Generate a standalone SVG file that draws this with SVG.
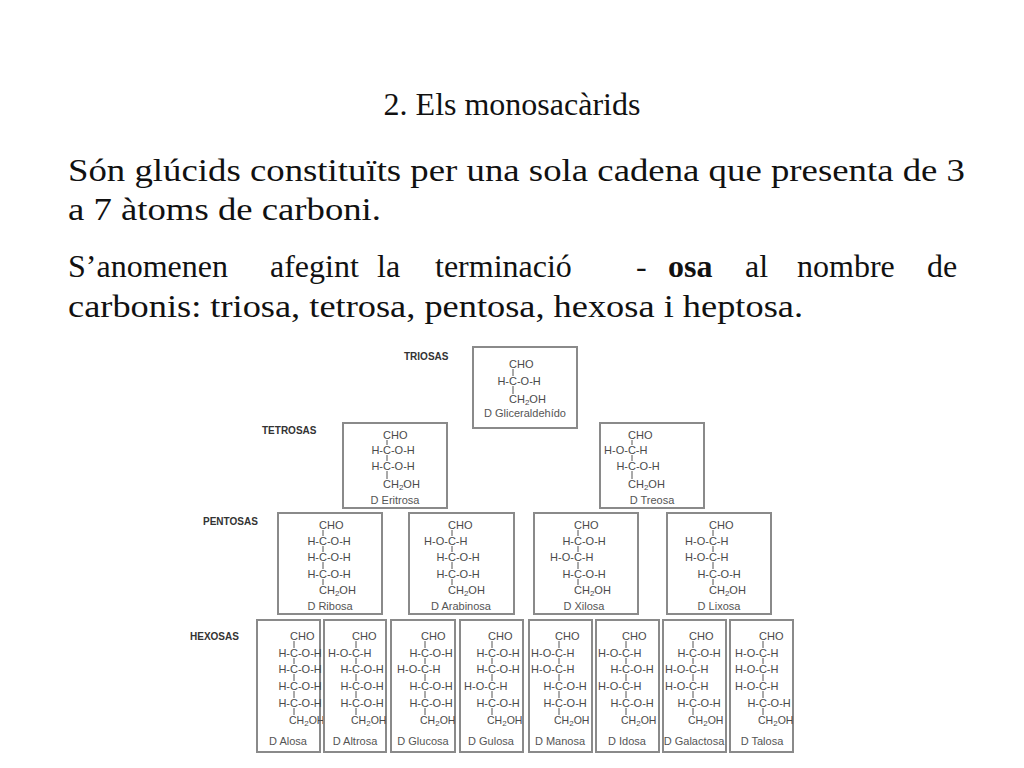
<svg xmlns="http://www.w3.org/2000/svg" width="1024" height="768" viewBox="0 0 1024 768">
<style>
.t{font-family:"Liberation Serif",serif;fill:#111;font-size:32px}
.f{font-family:"Liberation Sans",Arial,sans-serif;font-size:11px;fill:#4a4a4a}
.n{font-family:"Liberation Sans",Arial,sans-serif;font-size:11px;fill:#555;text-anchor:middle}
.l{font-family:"Liberation Sans",Arial,sans-serif;font-size:10px;font-weight:bold;fill:#333}
.b{fill:#fff;stroke:#8a8a8a;stroke-width:2}
.k{stroke:#555;stroke-width:1;fill:none}
.s{font-size:8px}
.h{font-size:10.5px}
</style>
<rect width="1024" height="768" fill="#fff"/>
<text class="t" x="512" y="115" font-size="55" text-anchor="middle">2. Els monosacàrids</text>
<text class="t" x="68" y="181" textLength="897" lengthAdjust="spacingAndGlyphs">Són glúcids constituïts per una sola cadena que presenta de 3</text>
<text class="t" x="68" y="220" textLength="313" lengthAdjust="spacingAndGlyphs">a 7 àtoms de carboni.</text>
<text class="t" y="277"><tspan x="68">S’anomenen</tspan><tspan x="270">afegint</tspan><tspan x="377">la</tspan><tspan x="435">terminació</tspan><tspan x="636">-</tspan><tspan x="668" font-weight="bold">osa</tspan><tspan x="745">al</tspan><tspan x="797">nombre</tspan><tspan x="927">de</tspan></text>
<text class="t" x="68" y="317" textLength="735" lengthAdjust="spacingAndGlyphs">carbonis:  triosa, tetrosa, pentosa, hexosa i heptosa.</text>

<text class="l" x="404" y="360">TRIOSAS</text>
<text class="l" x="262" y="434">TETROSAS</text>
<text class="l" x="203" y="525">PENTOSAS</text>
<text class="l" x="190" y="640">HEXOSAS</text>

<g id="gliceraldehid">
<rect class="b" x="473" y="347" width="104" height="81"/>
<text class="f" x="509" y="368">CHO</text><text class="f" x="497.4" y="385">H-C-O-H</text>
<text class="f" x="509" y="403">CH<tspan class="s" dy="2">2</tspan><tspan dy="-2">OH</tspan></text>
<path class="k" d="M513 369V376M513 386V394"/>
<text class="n" x="525" y="417">D Gliceraldehído</text>
</g>

<g id="eritrosa">
<rect class="b" x="343" y="423" width="104" height="85"/>
<text class="f" x="383" y="439">CHO</text><text class="f" x="371.4" y="454">H-C-O-H</text><text class="f" x="371.4" y="470">H-C-O-H</text>
<text class="f" x="383" y="488">CH<tspan class="s" dy="2">2</tspan><tspan dy="-2">OH</tspan></text>
<path class="k" d="M387 440V445M387 455V461M387 471V479"/>
<text class="n" x="395" y="504">D Eritrosa</text>
</g>
<g id="treosa">
<rect class="b" x="600" y="423" width="104" height="85"/>
<text class="f" x="628" y="439">CHO</text><text class="f" x="604.1" y="454">H-O-C-H</text><text class="f" x="616.4" y="470">H-C-O-H</text>
<text class="f" x="628" y="488">CH<tspan class="s" dy="2">2</tspan><tspan dy="-2">OH</tspan></text>
<path class="k" d="M632 440V445M632 455V461M632 471V479"/>
<text class="n" x="652" y="504">D Treosa</text>
</g>

<g id="ribosa">
<rect class="b" x="278" y="513" width="104" height="101"/>
<text class="f" x="319" y="529">CHO</text><text class="f" x="307.4" y="545">H-C-O-H</text><text class="f" x="307.4" y="561">H-C-O-H</text><text class="f" x="307.4" y="578">H-C-O-H</text>
<text class="f" x="319" y="594">CH<tspan class="s" dy="2">2</tspan><tspan dy="-2">OH</tspan></text>
<path class="k" d="M323 530V536M323 546V552M323 562V569M323 579V585"/>
<text class="n" x="330" y="610">D Ribosa</text>
</g>
<g id="arabinosa">
<rect class="b" x="409" y="513" width="105" height="101"/>
<text class="f" x="448" y="529">CHO</text><text class="f" x="424.1" y="545">H-O-C-H</text><text class="f" x="436.4" y="561">H-C-O-H</text><text class="f" x="436.4" y="578">H-C-O-H</text>
<text class="f" x="448" y="594">CH<tspan class="s" dy="2">2</tspan><tspan dy="-2">OH</tspan></text>
<path class="k" d="M452 530V536M452 546V552M452 562V569M452 579V585"/>
<text class="n" x="461" y="610">D Arabinosa</text>
</g>
<g id="xilosa">
<rect class="b" x="534" y="513" width="104" height="101"/>
<text class="f" x="574" y="529">CHO</text><text class="f" x="562.4" y="545">H-C-O-H</text><text class="f" x="550.1" y="561">H-O-C-H</text><text class="f" x="562.4" y="578">H-C-O-H</text>
<text class="f" x="574" y="594">CH<tspan class="s" dy="2">2</tspan><tspan dy="-2">OH</tspan></text>
<path class="k" d="M578 530V536M578 546V552M578 562V569M578 579V585"/>
<text class="n" x="584" y="610">D Xilosa</text>
</g>
<g id="lixosa">
<rect class="b" x="667" y="513" width="104" height="101"/>
<text class="f" x="709" y="529">CHO</text><text class="f" x="685.1" y="545">H-O-C-H</text><text class="f" x="685.1" y="561">H-O-C-H</text><text class="f" x="697.4" y="578">H-C-O-H</text>
<text class="f" x="709" y="594">CH<tspan class="s" dy="2">2</tspan><tspan dy="-2">OH</tspan></text>
<path class="k" d="M713 530V536M713 546V552M713 562V569M713 579V585"/>
<text class="n" x="719" y="610">D Lixosa</text>
</g>

<g id="alosa">
<rect class="b" x="257" y="620" width="63" height="132"/>
<text class="f" x="290" y="640">CHO</text><text class="f" x="278.4" y="657">H-C-O-H</text><text class="f" x="278.4" y="673">H-C-O-H</text><text class="f" x="278.4" y="690">H-C-O-H</text><text class="f" x="278.4" y="707">H-C-O-H</text>
<text class="f h" x="289" y="724">CH<tspan class="s" dy="2">2</tspan><tspan dy="-2">OH</tspan></text>
<path class="k" d="M294 641V648M294 658V664M294 674V681M294 691V698M294 708V715"/>
<text class="n" x="288" y="745">D Alosa</text>
</g>
<g id="altrosa">
<rect class="b" x="324" y="620" width="62" height="132"/>
<text class="f" x="352" y="640">CHO</text><text class="f" x="328.1" y="657">H-O-C-H</text><text class="f" x="340.4" y="673">H-C-O-H</text><text class="f" x="340.4" y="690">H-C-O-H</text><text class="f" x="340.4" y="707">H-C-O-H</text>
<text class="f h" x="351" y="724">CH<tspan class="s" dy="2">2</tspan><tspan dy="-2">OH</tspan></text>
<path class="k" d="M356 641V648M356 658V664M356 674V681M356 691V698M356 708V715"/>
<text class="n" x="355" y="745">D Altrosa</text>
</g>
<g id="glucosa">
<rect class="b" x="391" y="620" width="64" height="132"/>
<text class="f" x="421" y="640">CHO</text><text class="f" x="409.4" y="657">H-C-O-H</text><text class="f" x="397.1" y="673">H-O-C-H</text><text class="f" x="409.4" y="690">H-C-O-H</text><text class="f" x="409.4" y="707">H-C-O-H</text>
<text class="f h" x="420" y="724">CH<tspan class="s" dy="2">2</tspan><tspan dy="-2">OH</tspan></text>
<path class="k" d="M425 641V648M425 658V664M425 674V681M425 691V698M425 708V715"/>
<text class="n" x="423" y="745">D Glucosa</text>
</g>
<g id="gulosa">
<rect class="b" x="460" y="620" width="63" height="132"/>
<text class="f" x="488" y="640">CHO</text><text class="f" x="476.4" y="657">H-C-O-H</text><text class="f" x="476.4" y="673">H-C-O-H</text><text class="f" x="464.1" y="690">H-O-C-H</text><text class="f" x="476.4" y="707">H-C-O-H</text>
<text class="f h" x="487" y="724">CH<tspan class="s" dy="2">2</tspan><tspan dy="-2">OH</tspan></text>
<path class="k" d="M492 641V648M492 658V664M492 674V681M492 691V698M492 708V715"/>
<text class="n" x="491" y="745">D Gulosa</text>
</g>
<g id="manosa">
<rect class="b" x="529" y="620" width="63" height="132"/>
<text class="f" x="555" y="640">CHO</text><text class="f" x="531.1" y="657">H-O-C-H</text><text class="f" x="531.1" y="673">H-O-C-H</text><text class="f" x="543.4" y="690">H-C-O-H</text><text class="f" x="543.4" y="707">H-C-O-H</text>
<text class="f h" x="554" y="724">CH<tspan class="s" dy="2">2</tspan><tspan dy="-2">OH</tspan></text>
<path class="k" d="M559 641V648M559 658V664M559 674V681M559 691V698M559 708V715"/>
<text class="n" x="560" y="745">D Manosa</text>
</g>
<g id="idosa">
<rect class="b" x="596" y="620" width="63" height="132"/>
<text class="f" x="622" y="640">CHO</text><text class="f" x="598.1" y="657">H-O-C-H</text><text class="f" x="610.4" y="673">H-C-O-H</text><text class="f" x="598.1" y="690">H-O-C-H</text><text class="f" x="610.4" y="707">H-C-O-H</text>
<text class="f h" x="621" y="724">CH<tspan class="s" dy="2">2</tspan><tspan dy="-2">OH</tspan></text>
<path class="k" d="M626 641V648M626 658V664M626 674V681M626 691V698M626 708V715"/>
<text class="n" x="627" y="745">D Idosa</text>
</g>
<g id="galactosa">
<rect class="b" x="663" y="620" width="63" height="132"/>
<text class="f" x="689" y="640">CHO</text><text class="f" x="677.4" y="657">H-C-O-H</text><text class="f" x="665.1" y="673">H-O-C-H</text><text class="f" x="665.1" y="690">H-O-C-H</text><text class="f" x="677.4" y="707">H-C-O-H</text>
<text class="f h" x="688" y="724">CH<tspan class="s" dy="2">2</tspan><tspan dy="-2">OH</tspan></text>
<path class="k" d="M693 641V648M693 658V664M693 674V681M693 691V698M693 708V715"/>
<text class="n" x="694" y="745" font-size="10.5">D Galactosa</text>
</g>
<g id="talosa">
<rect class="b" x="730" y="620" width="63" height="132"/>
<text class="f" x="759" y="640">CHO</text><text class="f" x="735.1" y="657">H-O-C-H</text><text class="f" x="735.1" y="673">H-O-C-H</text><text class="f" x="735.1" y="690">H-O-C-H</text><text class="f" x="747.4" y="707">H-C-O-H</text>
<text class="f h" x="758" y="724">CH<tspan class="s" dy="2">2</tspan><tspan dy="-2">OH</tspan></text>
<path class="k" d="M763 641V648M763 658V664M763 674V681M763 691V698M763 708V715"/>
<text class="n" x="762" y="745">D Talosa</text>
</g>
<g id="connectors"/>
</svg>
